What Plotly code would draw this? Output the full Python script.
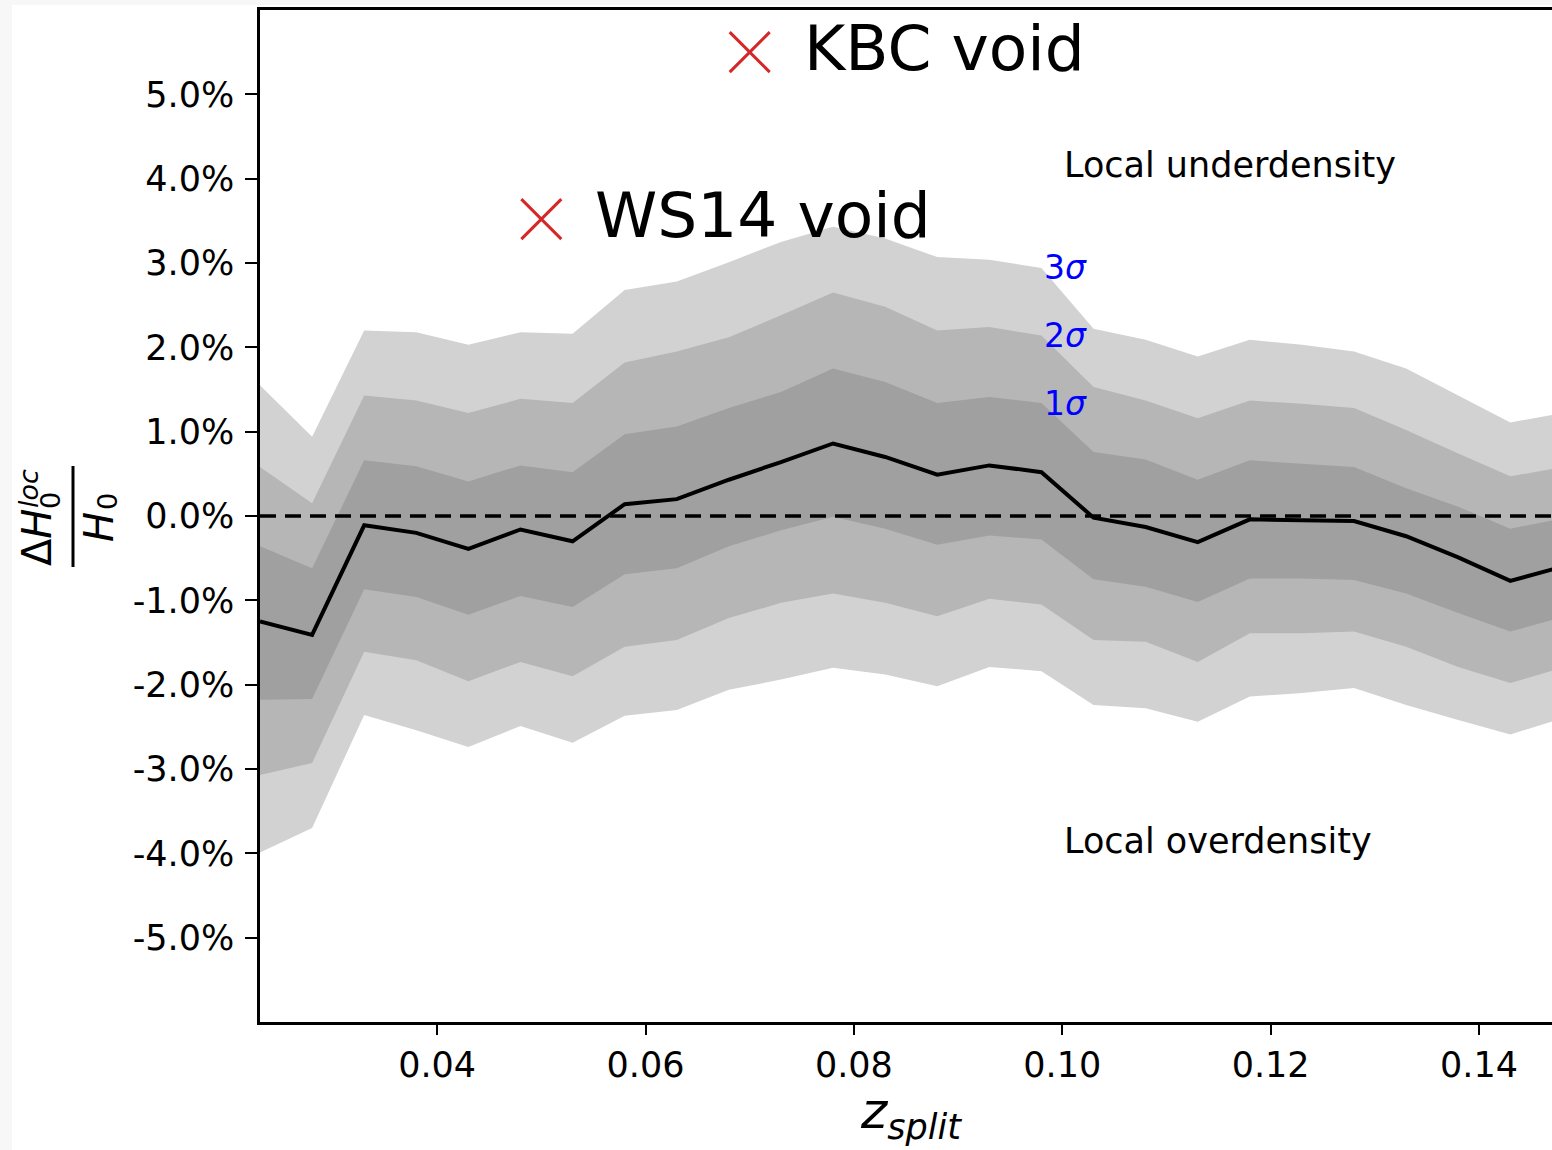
import plotly.graph_objects as go

# Redshift of the split and the local H0 offset (%) with 1/2/3 sigma envelopes
z_split = [0.023, 0.028, 0.033, 0.038, 0.043, 0.048, 0.053, 0.058, 0.063, 0.068,
           0.073, 0.078, 0.083, 0.088, 0.093, 0.098, 0.103, 0.108, 0.113, 0.118,
           0.123, 0.128, 0.133, 0.138, 0.143, 0.148]
dh_mean = [-1.25, -1.41, -0.11, -0.20, -0.39, -0.16, -0.30, 0.14, 0.20, 0.43,
           0.64, 0.86, 0.70, 0.49, 0.60, 0.52, -0.02, -0.13, -0.31, -0.04,
           -0.05, -0.06, -0.24, -0.49, -0.77, -0.60]
up_1s = [-0.36, -0.62, 0.66, 0.59, 0.41, 0.60, 0.52, 0.97, 1.06, 1.28,
         1.47, 1.75, 1.59, 1.34, 1.41, 1.34, 0.76, 0.67, 0.43, 0.66,
         0.62, 0.58, 0.33, 0.11, -0.15, -0.03]
lo_1s = [-2.18, -2.17, -0.87, -0.96, -1.17, -0.95, -1.08, -0.69, -0.62, -0.36,
         -0.17, -0.01, -0.15, -0.34, -0.23, -0.28, -0.75, -0.84, -1.02, -0.74,
         -0.74, -0.76, -0.92, -1.15, -1.37, -1.20]
up_2s = [0.58, 0.15, 1.43, 1.37, 1.22, 1.39, 1.34, 1.82, 1.95, 2.12,
         2.38, 2.65, 2.48, 2.20, 2.24, 2.14, 1.53, 1.37, 1.16, 1.37,
         1.33, 1.28, 1.02, 0.74, 0.47, 0.58]
lo_2s = [-3.07, -2.93, -1.61, -1.71, -1.96, -1.73, -1.90, -1.55, -1.47, -1.21,
         -1.03, -0.92, -1.03, -1.19, -0.98, -1.05, -1.47, -1.49, -1.73, -1.39,
         -1.39, -1.37, -1.55, -1.79, -1.98, -1.80]
up_3s = [1.55, 0.94, 2.20, 2.18, 2.03, 2.18, 2.16, 2.68, 2.78, 3.01,
         3.25, 3.43, 3.29, 3.07, 3.04, 2.94, 2.22, 2.09, 1.89, 2.09,
         2.03, 1.95, 1.75, 1.43, 1.11, 1.22]
lo_3s = [-3.99, -3.70, -2.36, -2.54, -2.74, -2.49, -2.69, -2.37, -2.30, -2.06,
         -1.94, -1.80, -1.88, -2.02, -1.79, -1.84, -2.24, -2.28, -2.44, -2.14,
         -2.10, -2.04, -2.24, -2.42, -2.59, -2.40]

# Known local voids (redshift, offset %)
void_names = ["KBC void", "WS14 void"]
void_z = [0.070, 0.050]
void_dh = [5.50, 3.52]

x_ticks = [0.04, 0.06, 0.08, 0.10, 0.12, 0.14]
y_ticks = [-5, -4, -3, -2, -1, 0, 1, 2, 3, 4, 5]
sigma_labels = ["3σ", "2σ", "1σ"]

W, H = 1552, 1150
L, R, T, B = 260, 0, 10, 128
PW, PH = W - L - R, H - T - B
FONT = "DejaVu Sans"


def px(xp):
    return (xp - L) / PW


def py(yp):
    return (H - B - yp) / PH


fig = go.Figure()

bands = [(up_3s, lo_3s, "#d2d2d2"), (up_2s, lo_2s, "#b6b6b6"), (up_1s, lo_1s, "#a0a0a0")]
for up, lo, col in bands:
    fig.add_trace(go.Scatter(
        x=z_split + z_split[::-1], y=up + lo[::-1],
        fill="toself", fillcolor=col, line=dict(width=0),
        mode="lines", hoverinfo="skip", showlegend=False))

fig.add_trace(go.Scatter(
    x=z_split, y=dh_mean, mode="lines",
    line=dict(color="black", width=4), showlegend=False))

fig.add_trace(go.Scatter(
    x=void_z, y=void_dh, mode="markers",
    marker=dict(symbol="x-thin", size=40, color="#d62728",
                line=dict(color="#d62728", width=3)),
    showlegend=False, cliponaxis=False))

for name, zx, dy in zip(void_names, void_z, void_dh):
    fig.add_annotation(x=zx, y=dy, xref="x", yref="y", text=name,
                       showarrow=False, xanchor="left", yanchor="middle",
                       xshift=52, yshift=4,
                       font=dict(family=FONT, size=63, color="black"))

# zero reference line
fig.add_shape(type="line", xref="paper", yref="y", x0=0, x1=1, y0=0, y1=0,
              line=dict(color="black", width=3.5, dash="16px,9px"))

# white figure area over a light outer frame
fig.add_shape(type="rect", xref="paper", yref="paper", layer="below",
              x0=px(12), x1=px(W + 5), y0=py(H + 5), y1=py(5),
              fillcolor="white", line=dict(width=0))

fig.add_annotation(x=px(1062), y=py(165), xref="paper", yref="paper",
                   text="Local underdensity", showarrow=False,
                   xanchor="left", yanchor="middle",
                   font=dict(family=FONT, size=35, color="black"))
fig.add_annotation(x=px(1062), y=py(841), xref="paper", yref="paper",
                   text="Local overdensity", showarrow=False,
                   xanchor="left", yanchor="middle",
                   font=dict(family=FONT, size=35, color="black"))

for lab, ypix in zip(sigma_labels, [267, 335, 403]):
    fig.add_annotation(x=px(1042), y=py(ypix), xref="paper", yref="paper",
                       text=lab[0] + "<i>" + lab[1] + "</i>", showarrow=False,
                       xanchor="left", yanchor="middle",
                       font=dict(family=FONT, size=33, color="#0000ff"))

# x axis title
fig.add_annotation(x=px(911), y=py(1114), xref="paper", yref="paper",
                   text="<i>z</i><sub><i>split</i></sub>", showarrow=False,
                   xanchor="center", yanchor="middle",
                   font=dict(family=FONT, size=50, color="black"))

# y axis title: Delta H0^loc / H0 as a stacked fraction
frac_parts = [
    ("Δ<i>H</i>", 37, 538, 40),
    ("<i>loc</i>", 28, 489, 27),
    ("0", 50, 501, 27),
    ("<i>H</i>", 99, 527, 40),
    ("0", 108, 502, 27),
]
for txt, xp, yp, sz in frac_parts:
    fig.add_annotation(x=px(xp), y=py(yp), xref="paper", yref="paper",
                       text=txt, showarrow=False, textangle=-90,
                       xanchor="center", yanchor="middle",
                       font=dict(family=FONT, size=sz, color="black"))
fig.add_shape(type="line", xref="paper", yref="paper",
              x0=px(73), x1=px(73), y0=py(466), y1=py(567),
              line=dict(color="black", width=3))

fig.update_layout(
    width=W, height=H,
    margin=dict(l=L, r=R, t=T, b=B, pad=0),
    paper_bgcolor="#f7f7f7", plot_bgcolor="white",
    showlegend=False,
    font=dict(family=FONT, color="black"),
)
fig.update_xaxes(
    range=[0.023, 0.147], showgrid=False, zeroline=False,
    showline=True, linecolor="black", linewidth=2.5, mirror=True,
    ticks="outside", ticklen=10, tickwidth=2, tickcolor="black",
    tickvals=x_ticks, ticktext=[f"{v:.2f}" for v in x_ticks],
    tickfont=dict(family=FONT, size=35), ticklabelstandoff=0,
)
fig.update_yaxes(
    range=[-6, 6], showgrid=False, zeroline=False,
    showline=True, linecolor="black", linewidth=2.5, mirror=False,
    ticks="outside", ticklen=12, tickwidth=2, tickcolor="black",
    tickvals=y_ticks, ticktext=[f"{v:.1f}%" for v in y_ticks],
    tickfont=dict(family=FONT, size=35), ticklabelstandoff=4,
)

fig.write_html("out.html")
